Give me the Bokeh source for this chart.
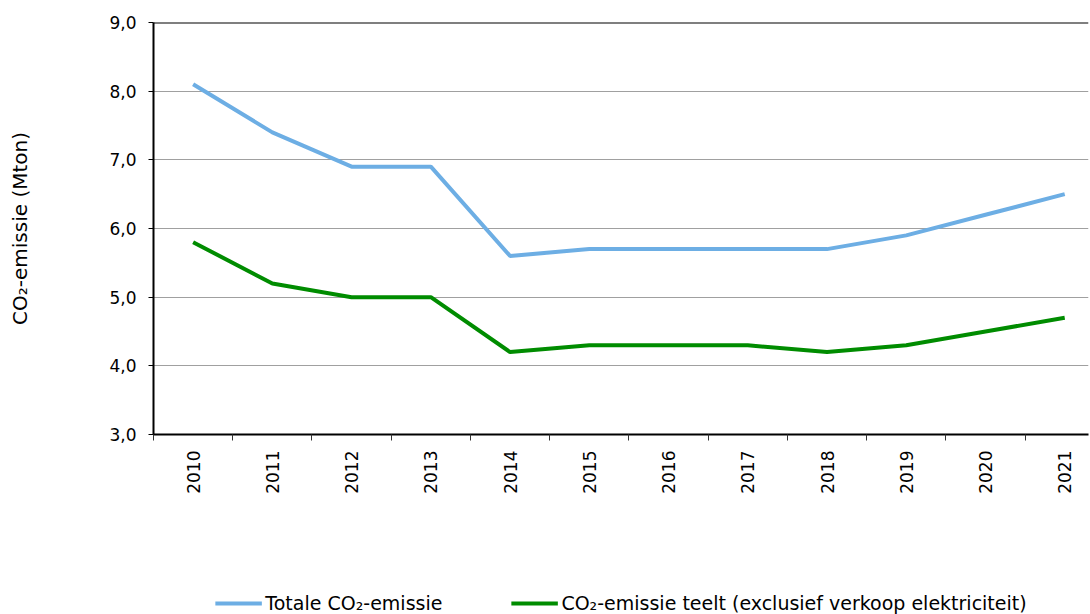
from bokeh.plotting import figure
from bokeh.models import (Range1d, FixedTicker, Span, Legend, LegendItem)
from bokeh.layouts import column
from bokeh.embed import file_html
from bokeh.resources import INLINE
import math

years = [2010, 2011, 2012, 2013, 2014, 2015, 2016, 2017, 2018, 2019, 2020, 2021]
totale = [8.1, 7.4, 6.9, 6.9, 5.6, 5.7, 5.7, 5.7, 5.7, 5.9, 6.2, 6.5]
teelt = [5.8, 5.2, 5.0, 5.0, 4.2, 4.3, 4.3, 4.3, 4.2, 4.3, 4.5, 4.7]
yticks = [3, 4, 5, 6, 7, 8, 9]
ytick_labels = ["3,0", "4,0", "5,0", "6,0", "7,0", "8,0", "9,0"]
series_names = ["Totale CO\u2082-emissie", "CO\u2082-emissie teelt (exclusief verkoop elektriciteit)"]
y_title = "CO\u2082-emissie (Mton)"

FONT = "DejaVu Sans"
BLUE = "#6DAEE4"
GREEN = "#008C00"

p = figure(width=1090, height=520, output_backend="svg", toolbar_location=None,
           x_range=Range1d(years[0] - 0.5, years[-1] + 0.3),
           y_range=Range1d(yticks[0], yticks[-1]),
           min_border_left=153, min_border_right=2, min_border_top=22, min_border_bottom=86)
p.outline_line_color = None
p.background_fill_color = "white"
p.border_fill_color = "white"

# grid
p.xgrid.grid_line_color = None
p.ygrid.ticker = FixedTicker(ticks=yticks[1:-1])
p.ygrid.grid_line_color = "#a0a0a0"
p.ygrid.grid_line_width = 1
p.add_layout(Span(location=yticks[-1], dimension="width", line_color="black", line_width=2))

# x axis
xa = p.xaxis[0]
xa.ticker = FixedTicker(ticks=years, minor_ticks=[y - 0.5 for y in years])
xa.major_tick_out = 0
xa.major_tick_in = 0
xa.minor_tick_out = 6
xa.minor_tick_in = 0
xa.minor_tick_line_color = "#333333"
xa.minor_tick_line_width = 1
xa.axis_line_color = "black"
xa.axis_line_width = 2
xa.major_label_orientation = math.pi / 2
xa.major_label_text_font = FONT
xa.major_label_text_font_size = "17px"
xa.major_label_text_color = "black"
xa.major_label_standoff = 10

# y axis
ya = p.yaxis[0]
ya.ticker = FixedTicker(ticks=yticks)
ya.major_label_overrides = dict(zip(yticks, ytick_labels))
ya.major_tick_out = 5
ya.major_tick_in = 0
ya.minor_tick_out = 0
ya.minor_tick_in = 0
ya.major_tick_line_color = "black"
ya.axis_line_color = "black"
ya.axis_line_width = 2
ya.major_label_text_font = FONT
ya.major_label_text_font_size = "17px"
ya.major_label_text_color = "black"
ya.major_label_standoff = 12
ya.axis_label = y_title
ya.axis_label_text_font = FONT
ya.axis_label_text_font_size = "20px"
ya.axis_label_text_font_style = "normal"
ya.axis_label_text_color = "black"
ya.axis_label_standoff = 74

p.line(years, totale, line_color=BLUE, line_width=4)
p.line(years, teelt, line_color=GREEN, line_width=4)

# legend strip below the chart (same series, outside this strip's visible range)
q = figure(width=1090, height=94, output_backend="svg", toolbar_location=None,
           min_border_left=153, min_border_right=2, min_border_top=0, min_border_bottom=0,
           x_range=Range1d(0, 1), y_range=Range1d(0, 1))
q.axis.visible = False
q.grid.visible = False
q.outline_line_color = None
q.border_fill_color = "white"
l1 = q.line(years, totale, line_color=BLUE, line_width=4)
l2 = q.line(years, teelt, line_color=GREEN, line_width=4)
legend = Legend(items=[LegendItem(label=series_names[0], renderers=[l1]),
                       LegendItem(label=series_names[1], renderers=[l2])],
                orientation="horizontal", location="bottom_center",
                glyph_width=47, glyph_height=20, label_standoff=4, spacing=68,
                padding=0, margin=0, border_line_color=None, background_fill_alpha=0,
                label_text_font=FONT, label_text_font_size="19px", label_text_color="black")
q.add_layout(legend)

layout = column(p, q, spacing=0)
open("out.html", "w").write(file_html(layout, INLINE))
